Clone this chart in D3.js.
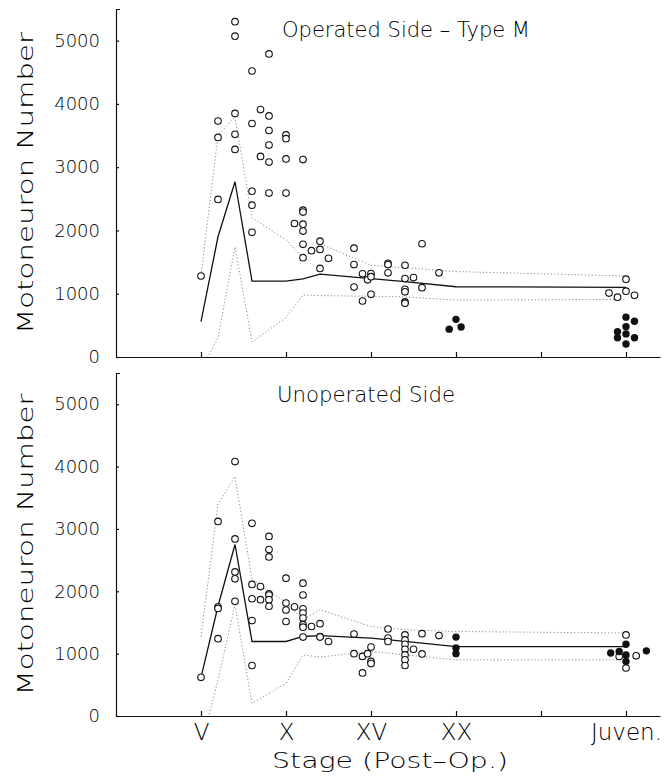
<!doctype html>
<html>
<head>
<meta charset="UTF-8">
<title>Motoneuron Number by Stage</title>
<script src="https://d3js.org/d3.v7.min.js"></script>
<style type="text/css">
body { margin: 0; background: #fff; }
text { font-family: "DejaVu Sans", "Liberation Sans", sans-serif; font-weight: 300; fill: #000; }
.axis path, .axis line { stroke: #111; stroke-width: 1.2; fill: none; }
</style>
</head>
<body>
<script type="text/javascript">
// stages where the mean and +/- SD lines have a vertex
var lineStages = [5, 6, 7, 8, 10, 11, 12, 15, 17, 20, 30];

// operated side (Type M)
var opMean  = [560, 1900, 2770, 1200, 1200, 1235, 1310, 1240, 1190, 1110, 1100];
var opUpper = [1290, 3500, 3800, 2200, 1850, 1570, 1790, 1450, 1410, 1350, 1280];
var opLower = [-200, 300, 1740, 240, 620, 980, 970, 960, 950, 900, 910];

// unoperated side
var unMean  = [620, 1760, 2750, 1195, 1195, 1275, 1290, 1250, 1195, 1114, 1114];
var unUpper = [1275, 3400, 3840, 2190, 1820, 1545, 1705, 1435, 1385, 1355, 1330];
var unLower = [-500, 580, 1780, 205, 525, 980, 945, 1035, 980, 900, 900];

// individual animals [stage position, motoneuron count]
var opOpen = [
  [5,1280],
  [6,3730],[6,3470],[6,2490],
  [7,5300],[7,5070],[7,3850],[7,3520],[7,3280],
  [8,4520],[8,3690],[8,2620],[8,2400],[8,1970],
  [8.5,3910],[8.5,3170],
  [9,4790],[9,3810],[9,3580],[9,3350],[9,3080],[9,2590],
  [10,3510],[10,3450],[10,3130],[10,2590],
  [10.5,2110],
  [11,3120],[11,2320],[11,2290],[11,2100],[11,1990],[11,1780],[11,1570],
  [11.5,1680],
  [12,1830],[12,1700],[12,1400],
  [12.5,1560],
  [14,1720],[14,1460],[14,1105],
  [14.5,1315],[14.5,885],
  [14.8,1220],
  [15,1320],[15,1270],[15,990],
  [16,1480],[16,1460],[16,1330],
  [17,1450],[17,1240],[17,1070],[17,1030],[17,870],[17,850],
  [17.5,1255],
  [18,1790],[18,1095],
  [19,1330],
  [29,1010],[29.5,945],[30,1230],[30,1040],[30.5,975]
];
var opFilled = [
  [19.6,440],[20,595],[20.3,475],
  [30,630],[30.5,565],[29.5,400],[30,480],[30,365],[29.5,305],[30.5,305],[30,205]
];

var unOpen = [
  [5,620],
  [6,3120],[6,1750],[6,1725],[6,1240],
  [7,4080],[7,2840],[7,2310],[7,2200],[7,1840],
  [8,3090],[8,2110],[8,1880],[8,1530],[8,810],
  [8.5,2075],[8.5,1865],
  [9,2880],[9,2670],[9,2550],[9,1960],[9,1940],[9,1865],[9,1760],
  [10,2210],[10,1810],[10,1700],[10,1515],
  [10.5,1750],
  [11,2130],[11,1940],[11,1720],[11,1650],[11,1570],[11,1465],[11,1425],[11,1265],
  [11.5,1435],
  [12,1480],[12,1275],[12,1265],
  [12.5,1195],
  [14,1315],[14,1000],
  [14.5,955],[14.5,690],
  [14.8,1000],
  [15,1105],[15,875],[15,840],
  [16,1395],[16,1250],[16,1195],
  [17,1300],[17,1220],[17,1150],[17,1070],[17,980],[17,900],[17,810],
  [17.5,1070],
  [18,1320],[18,995],
  [19,1290],
  [30,1300],[29.6,955],[30.6,965],[30,770]
];
var unFilled = [
  [20,1265],[20,1090],[20,1000],
  [30,1150],[29.6,1035],[29.1,1010],[31.2,1045],[30,980],[30,875]
];

// x axis ticks and labels
var xTicks = [5, 10, 15, 20, 25, 30];
var xTickLabels = ["V", "X", "XV", "XX", "", "Juven."];
var yTicks = [0, 1000, 2000, 3000, 4000, 5000];

var width = 670, height = 776;

var svg = d3.select("body").append("svg")
    .attr("width", width)
    .attr("height", height);

var x = d3.scaleLinear().domain([0, 32]).range([116, 660]);

function drawPanel(id, yRange, title, titleX, titleY, titleLen, meanV, upperV, lowerV, openPts, filledPts, showLabels)
{
    var y = d3.scaleLinear().domain([0, 5500]).range(yRange);
    var g = svg.append("g");

    // clip so the lower SD line stops at zero
    svg.append("clipPath").attr("id", id)
      .append("rect")
        .attr("x", x.range()[0]).attr("y", yRange[1])
        .attr("width", x.range()[1] - x.range()[0])
        .attr("height", yRange[0] - yRange[1]);

    // axes
    var yAxis = d3.axisLeft(y).tickValues(yTicks).tickFormat(d3.format("d"))
        .tickSize(-3).tickSizeOuter(-4).tickPadding(16);
    var xAxis = d3.axisBottom(x).tickValues(xTicks).tickSize(-5).tickSizeOuter(0).tickPadding(8)
        .tickFormat(function(d, i){ return showLabels ? xTickLabels[i] : ""; });

    g.append("g").attr("class", "x axis")
        .attr("transform", "translate(0," + yRange[0] + ")")
        .call(xAxis)
        .selectAll("text").style("font-size", "23px");

    g.append("g").attr("class", "y axis")
        .attr("transform", "translate(" + x.range()[0] + ",0)")
        .call(yAxis)
        .selectAll("text").style("font-size", "18px");

    g.selectAll(".axis text").attr("fill", "#000").style("font-family", null);

    var line = d3.line()
        .x(function(d, i){ return x(lineStages[i]); })
        .y(function(d){ return y(d); });

    var lines = g.append("g").attr("clip-path", "url(#" + id + ")");

    // +/- SD lines, dotted grey
    [upperV, lowerV].forEach(function(vals){
        lines.append("path")
            .attr("d", line(vals))
            .attr("fill", "none")
            .attr("stroke", "#8a8a8a")
            .attr("stroke-width", 1)
            .attr("stroke-dasharray", "1.2,2.2");
    });

    // mean line
    lines.append("path")
        .attr("d", line(meanV))
        .attr("fill", "none")
        .attr("stroke", "#111")
        .attr("stroke-width", 1.3);

    // points
    g.selectAll(".open").data(openPts).enter().append("circle")
        .attr("class", "open")
        .attr("cx", function(d){ return x(d[0]); })
        .attr("cy", function(d){ return y(d[1]); })
        .attr("r", 3.3)
        .attr("fill", "#fff")
        .attr("stroke", "#111")
        .attr("stroke-width", 1.1);

    g.selectAll(".filled").data(filledPts).enter().append("circle")
        .attr("class", "filled")
        .attr("cx", function(d){ return x(d[0]); })
        .attr("cy", function(d){ return y(d[1]); })
        .attr("r", 3.7)
        .attr("fill", "#111");

    // title inside the panel
    g.append("text")
        .attr("x", titleX).attr("y", titleY)
        .attr("textLength", titleLen).attr("lengthAdjust", "spacingAndGlyphs")
        .style("font-size", "22px")
        .text(title);

    // y axis label
    g.append("text")
        .attr("text-anchor", "middle")
        .attr("transform", "translate(33," + ((yRange[0] + yRange[1]) / 2) + ")rotate(-90)")
        .attr("textLength", 302).attr("lengthAdjust", "spacingAndGlyphs")
        .style("font-size", "21px")
        .text("Motoneuron Number");
}

drawPanel("clipTop", [357, 9], "Operated Side \u2013 Type M", 282, 37, 248,
    opMean, opUpper, opLower, opOpen, opFilled, false);
drawPanel("clipBottom", [716, 373], "Unoperated Side", 277, 402, 178,
    unMean, unUpper, unLower, unOpen, unFilled, true);

// x axis title
svg.append("text")
    .attr("x", 272).attr("y", 768)
    .attr("textLength", 236).attr("lengthAdjust", "spacingAndGlyphs")
    .style("font-size", "22px")
    .text("Stage (Post\u2013Op.)");
</script>
</body>
</html>
